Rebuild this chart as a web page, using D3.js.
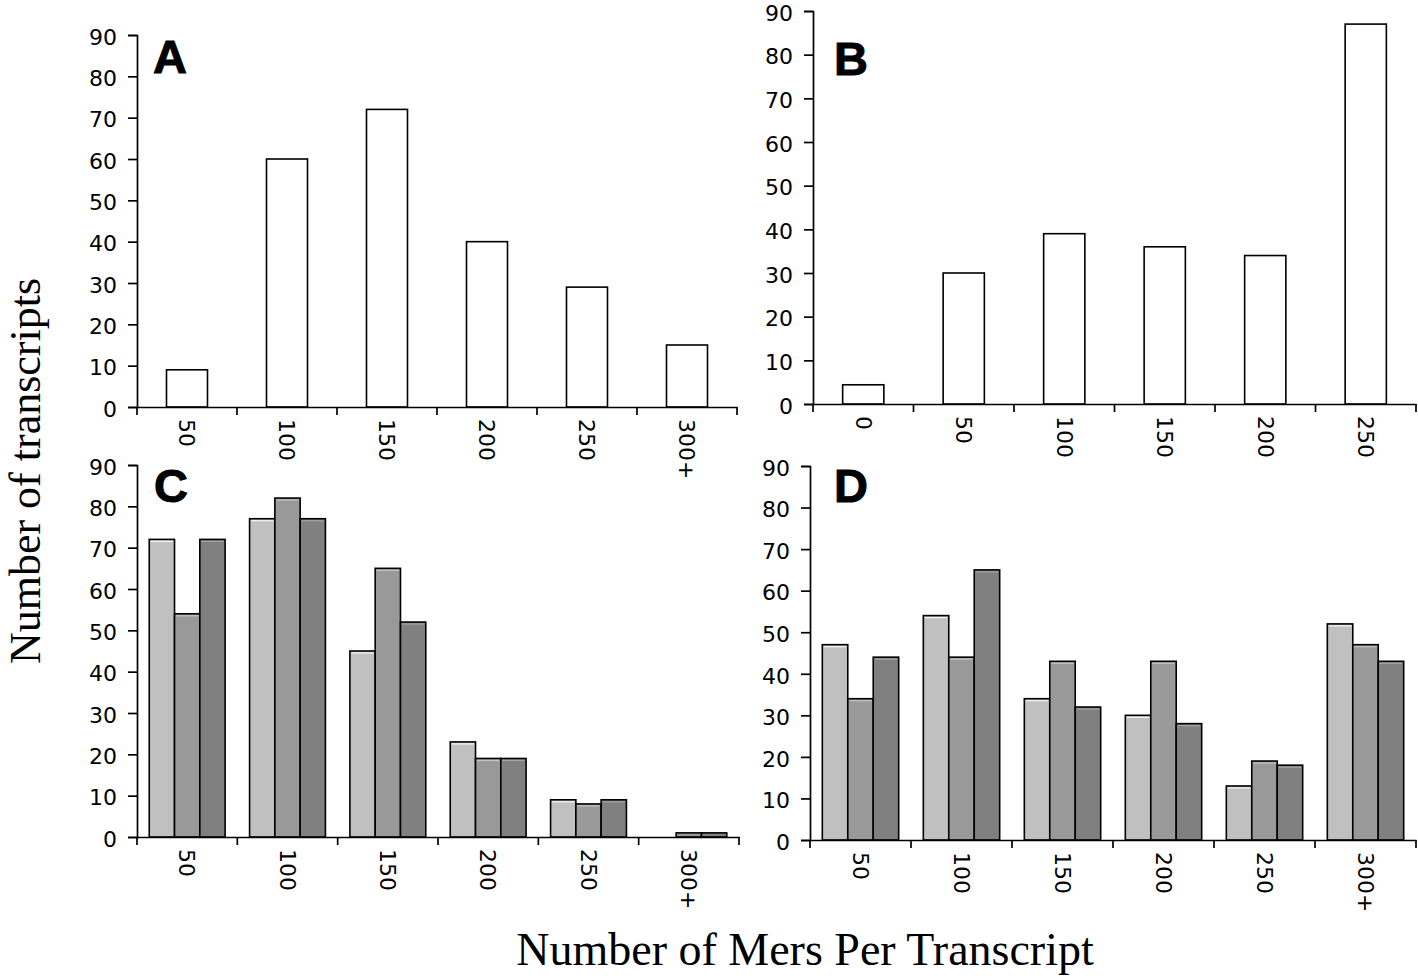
<!DOCTYPE html>
<html>
<head>
<meta charset="utf-8">
<script src="https://cdn.jsdelivr.net/npm/d3@7"></script>
<style>
  html, body { margin: 0; padding: 0; background: #fff; }
  svg { display: block; }
</style>
</head>
<body>
<svg id="chart" width="1418" height="980"></svg>
<script>
// ---- data ----
const catsA = ["50", "100", "150", "200", "250", "300+"];
const valuesA = [9, 60, 72, 40, 29, 15];

const catsB = ["0", "50", "100", "150", "200", "250"];
const valuesB = [4.4, 30, 39, 36, 34, 87];

const catsC = ["50", "100", "150", "200", "250", "300+"];
const seriesC1 = [72, 77, 45, 23, 9, 0];
const seriesC2 = [54, 82, 65, 19, 8, 1];
const seriesC3 = [72, 77, 52, 19, 9, 1];

const catsD = ["50", "100", "150", "200", "250", "300+"];
const seriesD1 = [47, 54, 34, 30, 13, 52];
const seriesD2 = [34, 44, 43, 43, 19, 47];
const seriesD3 = [44, 65, 32, 28, 18, 43];

const yTicks = [0, 10, 20, 30, 40, 50, 60, 70, 80, 90];
const xTitle = "Number of Mers Per Transcript";
const yTitle = "Number of transcripts";

// ---- styling / layout ----
const seriesColors = ["#c0c0c0", "#999999", "#808080"];
const tickFont = "'DejaVu Sans', Verdana, sans-serif";
const serifFont = "'Liberation Serif', 'Times New Roman', serif";
const tickSizePx = 22;

const svg = d3.select("#chart");

function panel(cfg) {
  const g = svg.append("g");
  const x = d3.scaleBand().domain(cfg.cats).range([cfg.left, cfg.right]).padding(0);
  const y = d3.scaleLinear().domain([0, 90]).range([cfg.y0, cfg.y90]);

  // bars
  if (cfg.series.length === 1) {
    const bw = x.bandwidth() * 0.41;
    g.selectAll("rect.bar").data(cfg.series[0]).join("rect")
      .attr("x", (d, i) => x(cfg.cats[i]) + (x.bandwidth() - bw) / 2)
      .attr("y", d => y(d))
      .attr("width", bw)
      .attr("height", d => y(0) - y(d))
      .attr("fill", "#fff")
      .attr("stroke", "#000")
      .attr("stroke-width", 1.6);
  } else {
    const inner = d3.scaleBand().domain(d3.range(cfg.series.length))
      .range([x.bandwidth() * 0.122, x.bandwidth() * 0.878]).padding(0);
    cfg.series.forEach((vals, si) => {
      const col = seriesColors[si];
      const items = vals.map((v, i) => ({ v, c: cfg.cats[i] })).filter(d => d.v > 0);
      g.selectAll(null).data(items).join("rect")
        .attr("x", d => x(d.c) + inner(si))
        .attr("y", d => y(d.v))
        .attr("width", inner.bandwidth())
        .attr("height", d => y(0) - y(d.v))
        .attr("fill", col)
        .attr("stroke", "#000")
        .attr("stroke-width", 1.6);
      // light highlight under top edge
      g.selectAll(null).data(items.filter(d => y(0) - y(d.v) > 5)).join("line")
        .attr("x1", d => x(d.c) + inner(si) + 1.5)
        .attr("x2", d => x(d.c) + inner(si) + inner.bandwidth() - 1.5)
        .attr("y1", d => y(d.v) + 2)
        .attr("y2", d => y(d.v) + 2)
        .attr("stroke", d3.color(col).brighter(0.7))
        .attr("stroke-width", 1.2);
    });
  }

  // y axis
  const ya = g.append("g").attr("transform", `translate(${cfg.left},0)`)
    .call(d3.axisLeft(y).tickValues(yTicks).tickSize(9).tickSizeOuter(9).tickPadding(11));
  ya.selectAll("text").attr("font-family", tickFont).attr("font-size", tickSizePx).attr("fill", "#000").attr("dy", "0.42em");
  ya.selectAll("line, path").attr("stroke", "#000").attr("stroke-width", 1.7);

  // x axis: labels centered in bands
  const xa = g.append("g").attr("transform", `translate(0,${cfg.y0})`)
    .call(d3.axisBottom(x).tickSize(0).tickSizeOuter(0).tickPadding(0));
  xa.select("path.domain").attr("stroke", "#000").attr("stroke-width", 1.7);
  xa.selectAll("text")
    .attr("font-family", tickFont).attr("font-size", tickSizePx).attr("fill", "#000")
    .attr("transform", "translate(0,12) rotate(90)")
    .attr("text-anchor", "start")
    .attr("x", 0).attr("y", 0).attr("dy", "0.35em");
  // boundary ticks
  const bounds = cfg.cats.map(c => x(c)).concat([cfg.right]);
  g.selectAll(null).data(bounds).join("line")
    .attr("x1", d => d).attr("x2", d => d)
    .attr("y1", cfg.y0).attr("y2", cfg.y0 + 8)
    .attr("stroke", "#000").attr("stroke-width", 1.7);

  // panel letter
  g.append("text")
    .attr("x", cfg.lx).attr("y", cfg.ly)
    .attr("font-family", "'Liberation Sans', Arial, sans-serif")
    .attr("font-weight", 700).attr("font-size", 47)
    .attr("stroke", "#000").attr("stroke-width", 1)
    .text(cfg.letter);
}

panel({ cats: catsA, series: [valuesA], left: 137, right: 737, y0: 407, y90: 35, letter: "A", lx: 153, ly: 73 });
panel({ cats: catsB, series: [valuesB], left: 813, right: 1416, y0: 404, y90: 11, letter: "B", lx: 834, ly: 75 });
panel({ cats: catsC, series: [seriesC1, seriesC2, seriesC3], left: 137, right: 739, y0: 837, y90: 465, letter: "C", lx: 154, ly: 502 });
panel({ cats: catsD, series: [seriesD1, seriesD2, seriesD3], left: 810, right: 1416, y0: 840, y90: 466, letter: "D", lx: 834, ly: 502 });

// axis titles
svg.append("text")
  .attr("transform", "translate(40,471) rotate(-90)")
  .attr("text-anchor", "middle")
  .attr("font-family", serifFont).attr("font-size", 44).attr("fill", "#000")
  .text(yTitle);

svg.append("text")
  .attr("x", 805).attr("y", 965)
  .attr("text-anchor", "middle")
  .attr("font-family", serifFont).attr("font-size", 46).attr("fill", "#000")
  .text(xTitle);
</script>
</body>
</html>
